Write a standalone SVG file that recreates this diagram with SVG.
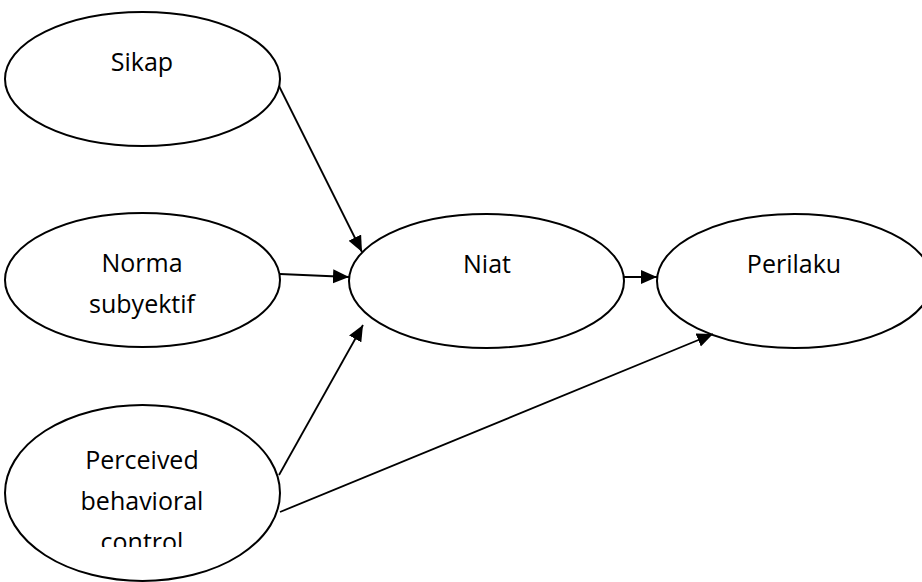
<svg xmlns="http://www.w3.org/2000/svg" width="922" height="582" viewBox="0 0 922 582">
<style>
.node ellipse{fill:#fff;stroke:#000;stroke-width:2}
.node text{font-family:"Open Sans","Liberation Sans",sans-serif;font-size:25px;fill:#000;text-anchor:middle}
.edge line{stroke:#000;stroke-width:1.8;fill:none}
</style>
<defs>
<marker id="arr" markerUnits="userSpaceOnUse" markerWidth="17" markerHeight="15" refX="16" refY="7" orient="auto">
<path d="M0,0 L16,7 L0,14 z" fill="#000"/>
</marker>
<clipPath id="clipPbc"><rect x="0" y="400" width="300" height="147"/></clipPath>
</defs>
<rect width="922" height="582" fill="#fff"/>
<g id="sikap" class="node">
<ellipse cx="142.5" cy="79" rx="137.5" ry="67"/>
<text x="142" y="71">Sikap</text>
</g>
<g id="norma" class="node">
<ellipse cx="142.5" cy="280" rx="137.5" ry="67"/>
<text x="142" y="272">Norma</text>
<text x="142" y="313">subyektif</text>
</g>
<g id="pbc" class="node">
<ellipse cx="142.5" cy="493" rx="137.5" ry="88"/>
<text x="142" y="469">Perceived</text>
<text x="142" y="510">behavioral</text>
<text x="142" y="551" clip-path="url(#clipPbc)">control</text>
</g>
<g id="niat" class="node">
<ellipse cx="486.5" cy="281" rx="137.5" ry="67"/>
<text x="487" y="273">Niat</text>
</g>
<g id="perilaku" class="node">
<ellipse cx="794.5" cy="281" rx="137.5" ry="67"/>
<text x="794" y="273">Perilaku</text>
</g>
<g id="connectors" class="edge">
<line x1="279" y1="86" x2="362" y2="252" marker-end="url(#arr)"/>
<line x1="280" y1="274" x2="349" y2="277" marker-end="url(#arr)"/>
<line x1="624" y1="277" x2="657" y2="277" marker-end="url(#arr)"/>
<line x1="279" y1="475" x2="363" y2="325" marker-end="url(#arr)"/>
<line x1="280" y1="512" x2="713" y2="334" marker-end="url(#arr)"/>
</g>
</svg>
